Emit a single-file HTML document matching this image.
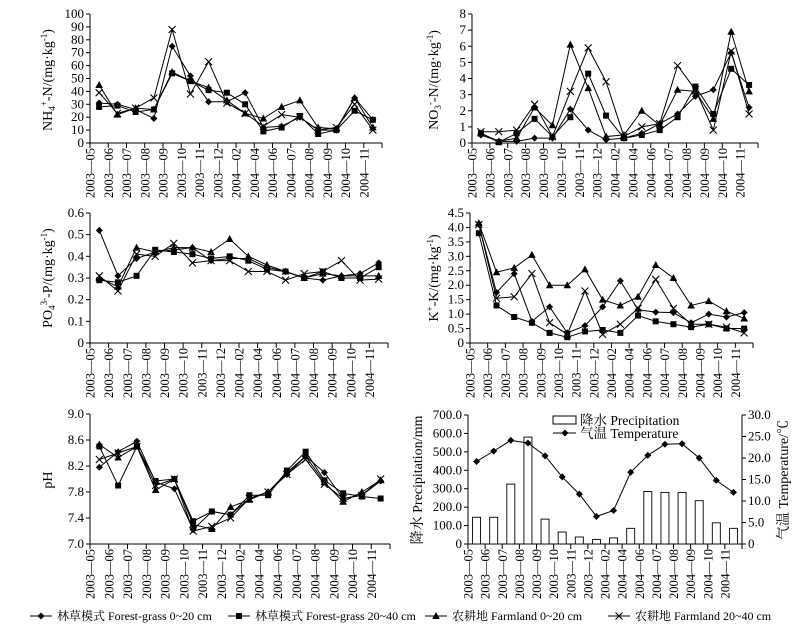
<!DOCTYPE html>
<html><head><meta charset="utf-8">
<style>
html,body{margin:0;padding:0;background:#fff;}
svg{display:block;font-family:"Liberation Serif","Noto Serif CJK SC",serif;}
</style></head>
<body>
<svg id="chart" width="812" height="637" viewBox="0 0 812 637" xmlns="http://www.w3.org/2000/svg">
</svg>
<script>
const categories = ["2003—05","2003—06","2003—07","2003—08","2003—09","2003—10","2003—11","2003—12","2004—02","2004—04","2004—06","2004—07","2004—08","2004—09","2004—10","2004—11"];

// NH4+-N
const nhFg020 = [31,30,26,19,75,52,32,32,39,12,13,20,10,10,35,18];
const nhFg2040 = [28,29,24,26,54,48,41,39,30,9,12,21,7,10,25,18];
const nhFl020 = [45,22,27,26,55,48,43,33,23,19,28,33,12,11,35,12];
const nhFl2040 = [39,23,27,35,88,38,63,31,23,13,22,20,10,12,30,10];
const nhTicks = [0,10,20,30,40,50,60,70,80,90,100];

// NO3--N
const noFg020 = [0.5,0.1,0.1,0.3,0.3,2.1,0.8,0.2,0.3,0.6,1.2,1.8,2.9,3.3,5.6,2.2];
const noFg2040 = [0.6,0.05,0.6,1.5,0.4,1.6,4.3,1.7,0.3,0.5,0.8,1.6,3.5,1.8,4.6,3.6];
const noFl020 = [0.6,0.1,0.3,2.2,1.1,6.1,3.4,0.4,0.5,2.0,1.1,3.3,3.2,1.5,6.9,3.2];
const noFl2040 = [0.7,0.7,0.8,2.4,0.4,3.2,5.9,3.8,0.4,1.0,1.2,4.8,3.3,0.8,5.7,1.8];
const noTicks = [0,1,2,3,4,5,6,7,8];

// PO43--P
const poFg020 = [0.52,0.31,0.39,0.42,0.43,0.44,0.38,0.39,0.39,0.35,0.33,0.30,0.29,0.31,0.32,0.37];
const poFg2040 = [0.29,0.28,0.31,0.43,0.42,0.41,0.39,0.40,0.38,0.34,0.33,0.30,0.33,0.30,0.30,0.35];
const poFl020 = [0.30,0.26,0.44,0.42,0.44,0.44,0.42,0.48,0.40,0.36,0.33,0.30,0.32,0.31,0.31,0.31];
const poFl2040 = [0.31,0.24,0.41,0.40,0.46,0.37,0.38,0.38,0.33,0.33,0.29,0.32,0.33,0.38,0.29,0.295];
const poTicks = [0,0.1,0.2,0.3,0.4,0.5,0.6];

// K+-K
const kFg020 = [4.1,1.75,2.4,0.75,1.25,0.35,0.6,1.25,2.15,1.15,1.07,1.05,0.7,1.0,0.9,1.05];
const kFg2040 = [3.8,1.3,0.9,0.7,0.35,0.2,0.4,0.45,0.35,0.95,0.75,0.65,0.55,0.65,0.5,0.5];
const kFl020 = [4.15,2.45,2.6,3.05,2.0,2.0,2.55,1.5,1.3,1.6,2.7,2.25,1.3,1.45,1.1,0.85];
const kFl2040 = [4.1,1.55,1.6,2.4,0.7,0.3,1.8,0.3,0.65,1.2,2.2,1.2,0.65,0.65,0.55,0.35];
const kTicks = [0,0.5,1.0,1.5,2.0,2.5,3.0,3.5,4.0,4.5];

// pH
const phFg020 = [8.18,8.42,8.58,7.95,7.85,7.22,7.5,7.45,7.7,7.8,8.07,8.35,8.1,7.7,7.75,7.97];
const phFg2040 = [8.5,7.9,8.5,7.97,8.0,7.35,7.5,7.45,7.75,7.75,8.13,8.42,7.98,7.78,7.73,7.7];
const phFl020 = [8.53,8.33,8.5,7.83,8.0,7.3,7.23,7.57,7.68,7.8,8.1,8.35,7.95,7.65,7.8,7.98];
const phFl2040 = [8.3,8.4,8.5,7.9,8.0,7.2,7.27,7.4,7.7,7.8,8.07,8.3,7.92,7.7,7.75,8.0];
const phTicks = [7.0,7.4,7.8,8.2,8.6,9.0];

// Climate
const precipitation = [145,145,325,580,135,65,38,25,33,85,285,280,280,235,115,85];
const temperature = [19.2,21.6,24.1,23.5,20.5,15.6,11.6,6.4,7.8,16.7,20.6,23.2,23.3,20.0,14.8,12.0];
const precipTicks = [0,100,200,300,400,500,600,700];
const tempTicks = [0,5,10,15,20,25,30];

const NS = "http://www.w3.org/2000/svg";
const svg = document.getElementById("chart");
function mk(tag, attrs, parent){
  const e = document.createElementNS(NS, tag);
  for (const k in attrs) e.setAttribute(k, attrs[k]);
  (parent||svg).appendChild(e);
  return e;
}
function marker(g, type, x, y){
  let m;
  if (type==="diamond") m = mk("polygon",{points:`${x},${y-3.5} ${x+3.5},${y} ${x},${y+3.5} ${x-3.5},${y}`,fill:"#000"},g);
  else if (type==="square") m = mk("rect",{x:x-3,y:y-3,width:6,height:6,fill:"#000"},g);
  else if (type==="triangle") m = mk("polygon",{points:`${x},${y-4} ${x+3.8},${y+3} ${x-3.8},${y+3}`,fill:"#000"},g);
  else m = mk("path",{d:`M${x-3.5},${y-3.5}L${x+3.5},${y+3.5}M${x+3.5},${y-3.5}L${x-3.5},${y+3.5}`,stroke:"#000","stroke-width":1.1,fill:"none"},g);
  
  
  return m;
}
function fmt(v, dec){ return dec ? v.toFixed(dec) : String(v); }

function axes(p){
  const g = mk("g",{});
  
  
  const n = categories.length, w = (p.x1-p.x0)/n;
  const ys = v => p.yBot - (v-p.min)/(p.max-p.min)*(p.yBot-p.yTop);
  mk("line",{x1:p.x0,y1:p.yTop,x2:p.x0,y2:p.yBot,stroke:"#000","stroke-width":1},g);
  mk("line",{x1:p.x0,y1:p.yBot,x2:p.x1,y2:p.yBot,stroke:"#000","stroke-width":1},g);
  p.ticks.forEach(t=>{
    const y = ys(t);
    mk("line",{x1:p.x0-4,y1:y,x2:p.x0,y2:y,stroke:"#000"},g);
    const tx = mk("text",{x:p.x0-6,y:y+4,"text-anchor":"end","font-size":13},g);
    tx.textContent = (p.zeroPlain && t===0) ? "0" : fmt(t,p.dec);
    
    
  });
  for (let i=0;i<=n;i++){
    const x = p.x0 + i*w;
    mk("line",{x1:x,y1:p.yBot,x2:x,y2:p.yBot+5,stroke:"#000"},g);
  }
  categories.forEach((c,i)=>{
    const x = p.x0 + i*w + 4.5;
    const t = mk("text",{x:0,y:0,"text-anchor":"end","font-size":12.5,transform:`translate(${x},${p.yBot+5}) rotate(-90)`},g);
    t.textContent = c;
    
    
  });
  return {xs: i => p.x0 + (i+0.5)*w, ys, w};
}

function linePanel(p, series){
  const a = axes(p);
  const types = ["diamond","square","triangle","cross"];
  series.forEach((arr,si)=>{
    const g = mk("g",{});
    
    
    const pts = arr.map((v,i)=>`${a.xs(i)},${a.ys(v)}`).join(" ");
    mk("polyline",{points:pts,fill:"none",stroke:"#000","stroke-width":1},g);
    arr.forEach((v,i)=>marker(g,types[si],a.xs(i),a.ys(v)));
  });
}

function yTitle(x, y, html, name){
  const t = mk("text",{x:0,y:0,"text-anchor":"middle","font-size":14,transform:`translate(${x},${y}) rotate(-90)`});
  t.innerHTML = html;
  
  
}

linePanel({name:"nh4",x0:90,x1:382,yTop:14,yBot:143,min:0,max:100,ticks:nhTicks,dec:0},[nhFg020,nhFg2040,nhFl020,nhFl2040]);
linePanel({name:"no3",x0:472,x1:758,yTop:14,yBot:143,min:0,max:8,ticks:noTicks,dec:0},[noFg020,noFg2040,noFl020,noFl2040]);
linePanel({name:"po4",x0:90,x1:388,yTop:213,yBot:343,min:0,max:0.6,ticks:poTicks,dec:1,zeroPlain:true},[poFg020,poFg2040,poFl020,poFl2040]);
linePanel({name:"k",x0:470,x1:753,yTop:213,yBot:343,min:0,max:4.5,ticks:kTicks,dec:1,zeroPlain:true},[kFg020,kFg2040,kFl020,kFl2040]);
linePanel({name:"ph",x0:90,x1:390,yTop:414,yBot:544,min:7,max:9,ticks:phTicks,dec:1},[phFg020,phFg2040,phFl020,phFl2040]);

yTitle(52,80,'NH<tspan font-size="9" dy="3">4</tspan><tspan font-size="9" dy="-8">+</tspan><tspan dy="5">-N/(mg·kg</tspan><tspan font-size="9" dy="-5">-1</tspan><tspan dy="5">)</tspan>','nh4-y-axis-title');
yTitle(438,80,'NO<tspan font-size="9" dy="3">3</tspan><tspan font-size="9" dy="-8">-</tspan><tspan dy="5">-N/(mg·kg</tspan><tspan font-size="9" dy="-5">-1</tspan><tspan dy="5">)</tspan>','no3-y-axis-title');
yTitle(52,278,'PO<tspan font-size="9" dy="3">4</tspan><tspan font-size="9" dy="-8">3-</tspan><tspan dy="5">-P/(mg·kg</tspan><tspan font-size="9" dy="-5">-1</tspan><tspan dy="5">)</tspan>','po4-y-axis-title');
yTitle(438,278,'K<tspan font-size="9" dy="-5">+</tspan><tspan dy="5">-K/(mg·kg</tspan><tspan font-size="9" dy="-5">-1</tspan><tspan dy="5">)</tspan>','k-y-axis-title');
yTitle(52,480,'pH','ph-y-axis-title');

// Climate panel
(function(){
  const p = {name:"climate",x0:468,x1:742,yTop:415,yBot:544,min:0,max:700,ticks:precipTicks,dec:1,zeroPlain:true};
  const a = axes(p);
  const g = mk("g",{});
  
  
  precipitation.forEach((v,i)=>{
    const y = a.ys(v);
    const r = mk("rect",{x:a.xs(i)-4,y:y,width:8,height:p.yBot-y,fill:"#fff",stroke:"#000","stroke-width":0.9},g);
    
    
  });
  const yt = v => p.yBot - v/30*(p.yBot-p.yTop);
  mk("line",{x1:p.x1,y1:p.yTop,x2:p.x1,y2:p.yBot,stroke:"#000"});
  tempTicks.forEach(t=>{
    mk("line",{x1:p.x1,y1:yt(t),x2:p.x1+4,y2:yt(t),stroke:"#000"});
    const tx = mk("text",{x:p.x1+6,y:yt(t)+4,"font-size":13});
    tx.textContent = t===0 ? "0" : t.toFixed(1);
    
    
  });
  const tg = mk("g",{});
  
  
  mk("polyline",{points:temperature.map((v,i)=>`${a.xs(i)},${yt(v)}`).join(" "),fill:"none",stroke:"#000"},tg);
  temperature.forEach((v,i)=>marker(tg,"diamond",a.xs(i),yt(v)));
  const lg = mk("g",{});
  
  
  mk("rect",{x:553,y:416,width:23,height:8,fill:"#fff",stroke:"#000"},lg);
  const l1 = mk("text",{x:580,y:425,"font-size":13.5},lg); l1.textContent="降水 Precipitation";
  mk("line",{x1:553,y1:433,x2:576,y2:433,stroke:"#000"},lg);
  marker(lg,"diamond",565,433);
  const l2 = mk("text",{x:580,y:438,"font-size":13.5},lg); l2.textContent="气温 Temperature";
  yTitle(422,480,'降水 Precipitation/mm','precipitation-axis-title');
  const rt = mk("text",{x:0,y:0,"text-anchor":"middle","font-size":14,transform:`translate(788,480) rotate(-90)`});
  rt.textContent = "气温 Temperature/℃";
  
  
})();

// Bottom legend
(function(){
  const lg = mk("g",{});
  
  
  const items = [
    {t:"diamond",x:30,label:"林草模式 Forest-grass 0~20 cm"},
    {t:"square",x:228,label:"林草模式 Forest-grass 20~40 cm"},
    {t:"triangle",x:425,label:"农耕地 Farmland 0~20 cm"},
    {t:"cross",x:608,label:"农耕地 Farmland 20~40 cm"}
  ];
  items.forEach(it=>{
    const g = mk("g",{},lg);
    
    
    mk("line",{x1:it.x,y1:616,x2:it.x+22,y2:616,stroke:"#000"},g);
    marker(g,it.t,it.x+11,616);
    const tx = mk("text",{x:it.x+27,y:620,"font-size":12},g);
    tx.textContent = it.label;
  });
})();
</script>
</body></html>
